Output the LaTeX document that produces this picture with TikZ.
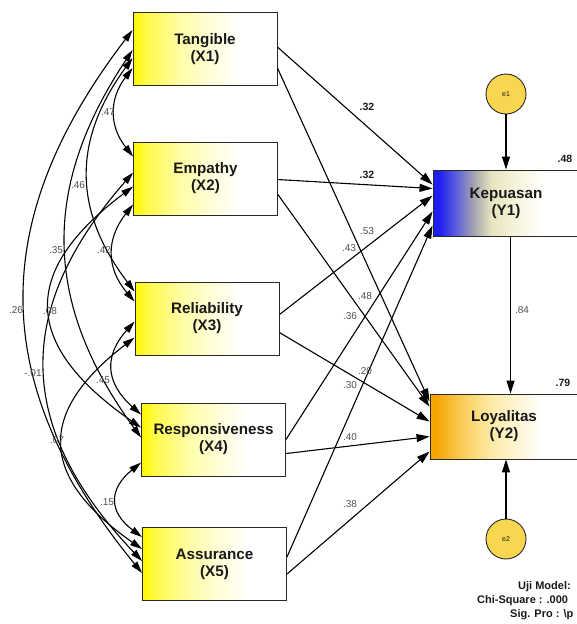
\documentclass[tikz,border=0pt]{standalone}
\usepackage{fontspec}
\setmainfont{Liberation Sans}
\usetikzlibrary{arrows.meta,calc}
\definecolor{xyellow}{RGB}{255,248,0}
\definecolor{yblue}{RGB}{30,30,240}
\definecolor{ybl2}{RGB}{95,95,220}
\definecolor{ymid}{RGB}{165,165,175}
\definecolor{ypale}{RGB}{232,228,190}
\definecolor{ypale2}{RGB}{248,246,225}
\definecolor{orng}{RGB}{247,166,0}
\definecolor{orng2}{RGB}{250,205,90}
\definecolor{orng3}{RGB}{253,235,170}
\definecolor{eyellow}{RGB}{248,214,80}
\definecolor{boxline}{RGB}{40,40,40}
\definecolor{txt}{RGB}{25,25,25}
\definecolor{labgray}{RGB}{80,80,80}
\pgfdeclarehorizontalshading{xshade}{100bp}{color(0bp)=(xyellow); color(25bp)=(xyellow); color(30bp)=(xyellow!70!white); color(40bp)=(xyellow!38!white); color(50bp)=(xyellow!18!white); color(62bp)=(white); color(100bp)=(white)}
\pgfdeclarehorizontalshading{yoneshade}{100bp}{color(0bp)=(yblue); color(27bp)=(yblue); color(33bp)=(ybl2); color(39bp)=(ymid); color(45bp)=(ypale); color(55bp)=(ypale2); color(63bp)=(white); color(100bp)=(white)}
\pgfdeclarehorizontalshading{ytwoshade}{100bp}{color(0bp)=(orng); color(27bp)=(orng); color(36bp)=(orng2); color(46bp)=(orng3); color(63bp)=(white); color(100bp)=(white)}
\begin{document}
\begin{tikzpicture}[x=1pt,y=-1pt,
  xbox/.style={draw=boxline, line width=0.9pt, minimum width=144pt, minimum height=73pt, inner sep=0pt, shading=xshade, align=center, font=\fontsize{15.2}{17}\selectfont\bfseries, text=txt},
  ybox/.style={draw=boxline, line width=0.9pt, minimum height=66pt, inner sep=0pt, align=center, font=\fontsize{15.2}{17}\selectfont\bfseries, text=txt},
  errc/.style={circle, draw=boxline, line width=0.9pt, fill=eyellow, minimum size=40pt, inner sep=0pt, font=\fontsize{7}{8}\selectfont, text=txt},
  pth/.style={line width=1.1pt, -{Triangle[length=13pt,width=8pt]}},
  cov/.style={line width=1.1pt, {Triangle[length=12pt,width=7pt]}-{Triangle[length=12pt,width=7pt]}},
  coef/.style={font=\fontsize{10}{12}\selectfont, text=labgray, inner sep=1pt},
  bcoef/.style={font=\fontsize{10.5}{12}\selectfont\bfseries, text=txt, inner sep=1pt},
  note/.style={anchor=west, font=\fontsize{11}{13}\selectfont\bfseries, text=txt, inner sep=0pt}
]
\useasboundingbox (0,0) rectangle (576,624);

% exogenous boxes
\node[xbox] (x1) at (205,49) {Tangible\\(X1)};
\node[xbox] (x2) at (205.5,178.5) {Empathy\\(X2)};
\node[xbox] (x3) at (207,318.5) {Reliability\\(X3)};
\node[xbox] (x4) at (213.5,439.5) {Responsiveness\\(X4)};
\node[xbox] (x5) at (214.5,564) {Assurance\\(X5)};

% endogenous boxes
\node[ybox, minimum width=146pt, shading=yoneshade] (y1) at (506,203) {Kepuasan\\(Y1)};
\node[ybox, minimum width=148pt, minimum height=65pt, shading=ytwoshade] (y2) at (504,426.5) {Loyalitas\\(Y2)};

% error terms
\node[errc] (e1) at (506,94) {e1};
\node[errc] (e2) at (506,539) {e2};

% R squared
\node[bcoef] (r1) at (565,159) {.48};
\node[bcoef] (r2) at (563,383) {.79};

% paths to Y1 / Y2
\draw[pth] ($(x1.north east)+(0,35)$) -- ($(y1.north west)+(0,15)$);
\draw[pth] ($(x1.north east)+(0,56)$) -- ($(y2.north west)+(0,8)$);
\draw[pth] ($(x2.north east)+(0,38)$) -- ($(y1.north west)+(0,19)$);
\draw[pth] ($(x2.north east)+(0,53)$) -- ($(y2.north west)+(0,13)$);
\draw[pth] ($(x3.north east)+(0,33)$) -- ($(y1.north west)+(0,26)$);
\draw[pth] ($(x3.north east)+(0,51)$) -- ($(y2.north west)+(0,28)$);
\draw[pth] ($(x4.north east)+(0,37)$) -- ($(y1.north west)+(0,42)$);
\draw[pth] ($(x4.north east)+(0,51)$) -- ($(y2.north west)+(0,43)$);
\draw[pth] ($(x5.north east)+(0,30)$) -- ($(y1.north west)+(0,56)$);
\draw[pth] ($(x5.north east)+(0,47)$) -- ($(y2.north west)+(0,58)$);
\draw[pth] ($(y1.south west)+(78,0)$) -- ($(y2.north west)+(81,0)$);
\draw[pth] (e1.south) -- (y1.north -| e1.south);
\draw[pth] (e2.north) -- (y2.south -| e2.north);

% path coefficients
\node[bcoef] (p11) at (367,107) {.32};
\node[bcoef] (p21) at (367,175) {.32};
\node[coef] (p12) at (367,231) {.53};
\node[coef] (p31) at (349,248) {.43};
\node[coef] (p22) at (365,296) {.48};
\node[coef] (p32) at (350,316) {.36};
\node[coef] (p41) at (365,371) {.20};
\node[coef] (p51) at (350,385) {.30};
\node[coef] (p42) at (350,437) {.40};
\node[coef] (p52) at (350,504) {.38};
\node[coef] (p12y) at (522,310) {.84};

% covariance end points
\coordinate (a15) at ($(x1.north west)+(0,18)$);
\coordinate (a14) at ($(x1.north west)+(0,38)$);
\coordinate (a13) at ($(x1.north west)+(0,46)$);
\coordinate (a12) at ($(x1.north west)+(0,56)$);
\coordinate (b12) at ($(x2.north west)+(0,15)$);
\coordinate (b25) at ($(x2.north west)+(0,31)$);
\coordinate (b24) at ($(x2.north west)+(0,45)$);
\coordinate (b23) at ($(x2.north west)+(0,63)$);
\coordinate (c13) at ($(x3.north west)+(0,10)$);
\coordinate (c23) at ($(x3.north west)+(0,20)$);
\coordinate (c34) at ($(x3.north west)+(0,40)$);
\coordinate (c35) at ($(x3.north west)+(0,56)$);
\coordinate (d34) at ($(x4.north west)+(0,12)$);
\coordinate (d24) at ($(x4.north west)+(0,25)$);
\coordinate (d14) at ($(x4.north west)+(0,35)$);
\coordinate (d45) at ($(x4.north west)+(0,60)$);
\coordinate (f45) at ($(x5.north west)+(0,10)$);
\coordinate (f35) at ($(x5.north west)+(0,22)$);
\coordinate (f25) at ($(x5.north west)+(0,34)$);
\coordinate (f15) at ($(x5.north west)+(0,46)$);

% covariances
\draw[cov] (a12) .. controls (109,99) and (109,126) .. (b12);
\draw[cov] (a13) .. controls (72.7,140) and (72.7,210) .. (c13);
\draw[cov] (a14) .. controls (42,186) and (42,302) .. (d14);
\draw[cov] (a15) .. controls (-12.7,220) and (-12.7,384) .. (f15);
\draw[cov] (b23) .. controls (106,239) and (106,268) .. (c23);
\draw[cov] (b24) .. controls (20.8,271) and (20.8,344) .. (d24);
\draw[cov] (b25) .. controls (14,309) and (14,426) .. (f25);
\draw[cov] (c34) .. controls (104.5,355) and (104.5,382) .. (d34);
\draw[cov] (c35) .. controls (37.7,412) and (37.7,476) .. (f35);
\draw[cov] (d45) .. controls (108.5,489) and (108.5,512) .. (f45);

% covariance labels
\node[coef] (k12) at (108,112) {.47};
\node[coef] (k13) at (78,185) {.46};
\node[coef] (k14) at (56,250) {.35};
\node[coef] (k23) at (104,250) {.42};
\node[coef] (k15) at (16,310) {.26};
\node[coef] (k24) at (50,311) {.08};
\node[coef] (k25) at (33,373) {-.01};
\node[coef] (k34) at (103,380) {.45};
\node[coef] (k35) at (57,440) {.07};
\node[coef] (k45) at (107,502) {.15};

% model note
\node[note] (um) at (518,587) {Uji Model:};
\node[note] (chi) at (477,601) {Chi-Square : .000};
\node[note] (sig) at (510,615) {Sig. Pro : \textbackslash p};
\end{tikzpicture}
\end{document}
